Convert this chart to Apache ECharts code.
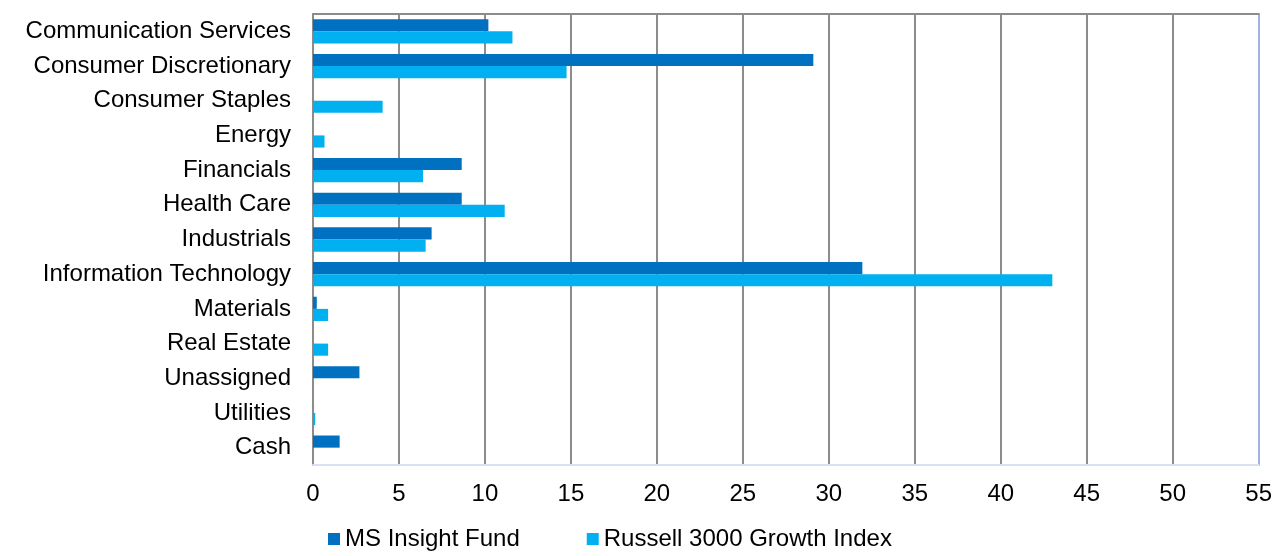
<!DOCTYPE html>
<html>
<head>
<meta charset="utf-8">
<script src="https://cdn.jsdelivr.net/npm/echarts@6/dist/echarts.min.js"></script>
<style>
  html, body { margin: 0; padding: 0; background: #fff; }
  #chart { width: 1275px; height: 556px; }
</style>
</head>
<body>
<div id="chart"></div>
<script>
const sectors = [
  'Communication Services', 'Consumer Discretionary', 'Consumer Staples', 'Energy',
  'Financials', 'Health Care', 'Industrials', 'Information Technology',
  'Materials', 'Real Estate', 'Unassigned', 'Utilities', 'Cash'
]
const msInsightFund = [10.2, 29.1, 0, 0, 8.65, 8.65, 6.9, 31.95, 0.22, 0, 2.7, 0, 1.55]
const russell3000Growth = [11.6, 14.75, 4.05, 0.67, 6.4, 11.15, 6.55, 43.0, 0.88, 0.88, 0, 0.13, 0]

const font = 'Liberation Sans, Arial, sans-serif'
const chart = echarts.init(document.getElementById('chart'))

chart.setOption({
  animation: false,
  grid: { left: 313, right: 15, top: 14, bottom: 91 },
  legend: {
    bottom: 0,
    left: 323,
    icon: 'rect',
    itemWidth: 12,
    itemHeight: 12,
    itemGap: 67,
    textStyle: { fontFamily: font, fontSize: 24, color: '#000' },
    data: ['MS Insight Fund', 'Russell 3000 Growth Index']
  },
  xAxis: [
    {
      type: 'value',
      min: 0,
      max: 55,
      interval: 5,
      axisLine: { show: true, lineStyle: { color: '#d9e1f2', width: 2 } },
      axisTick: { show: false },
      axisLabel: { fontFamily: font, fontSize: 24, color: '#000', margin: 17 },
      splitLine: { show: true, showMinLine: false, showMaxLine: false, lineStyle: { color: '#8c8c8c', width: 2 } }
    },
    {
      type: 'value',
      position: 'top',
      min: 0,
      max: 55,
      axisLine: { show: true, onZero: false, lineStyle: { color: '#8c8c8c', width: 2 } },
      axisTick: { show: false },
      axisLabel: { show: false },
      splitLine: { show: false }
    }
  ],
  yAxis: [
    {
      type: 'category',
      position: 'left',
      inverse: true,
      data: sectors,
      axisLine: { show: true, onZero: false, lineStyle: { color: '#8c8c8c', width: 2 } },
      axisTick: { show: false },
      axisLabel: { fontFamily: font, fontSize: 24, color: '#000', margin: 22 }
    },
    {
      type: 'category',
      inverse: true,
      position: 'right',
      data: sectors,
      axisLine: { show: true, onZero: false, lineStyle: { color: '#a3b3e0', width: 2 } },
      axisTick: { show: false },
      axisLabel: { show: false }
    }
  ],
  series: [
    {
      name: 'MS Insight Fund',
      type: 'bar',
      data: msInsightFund,
      barGap: '0%',
      barCategoryGap: '30%',
      itemStyle: { color: '#0070c0' }
    },
    {
      name: 'Russell 3000 Growth Index',
      type: 'bar',
      data: russell3000Growth,
      barGap: '0%',
      barCategoryGap: '30%',
      itemStyle: { color: '#00b0f0' }
    }
  ]
})
</script>
</body>
</html>
